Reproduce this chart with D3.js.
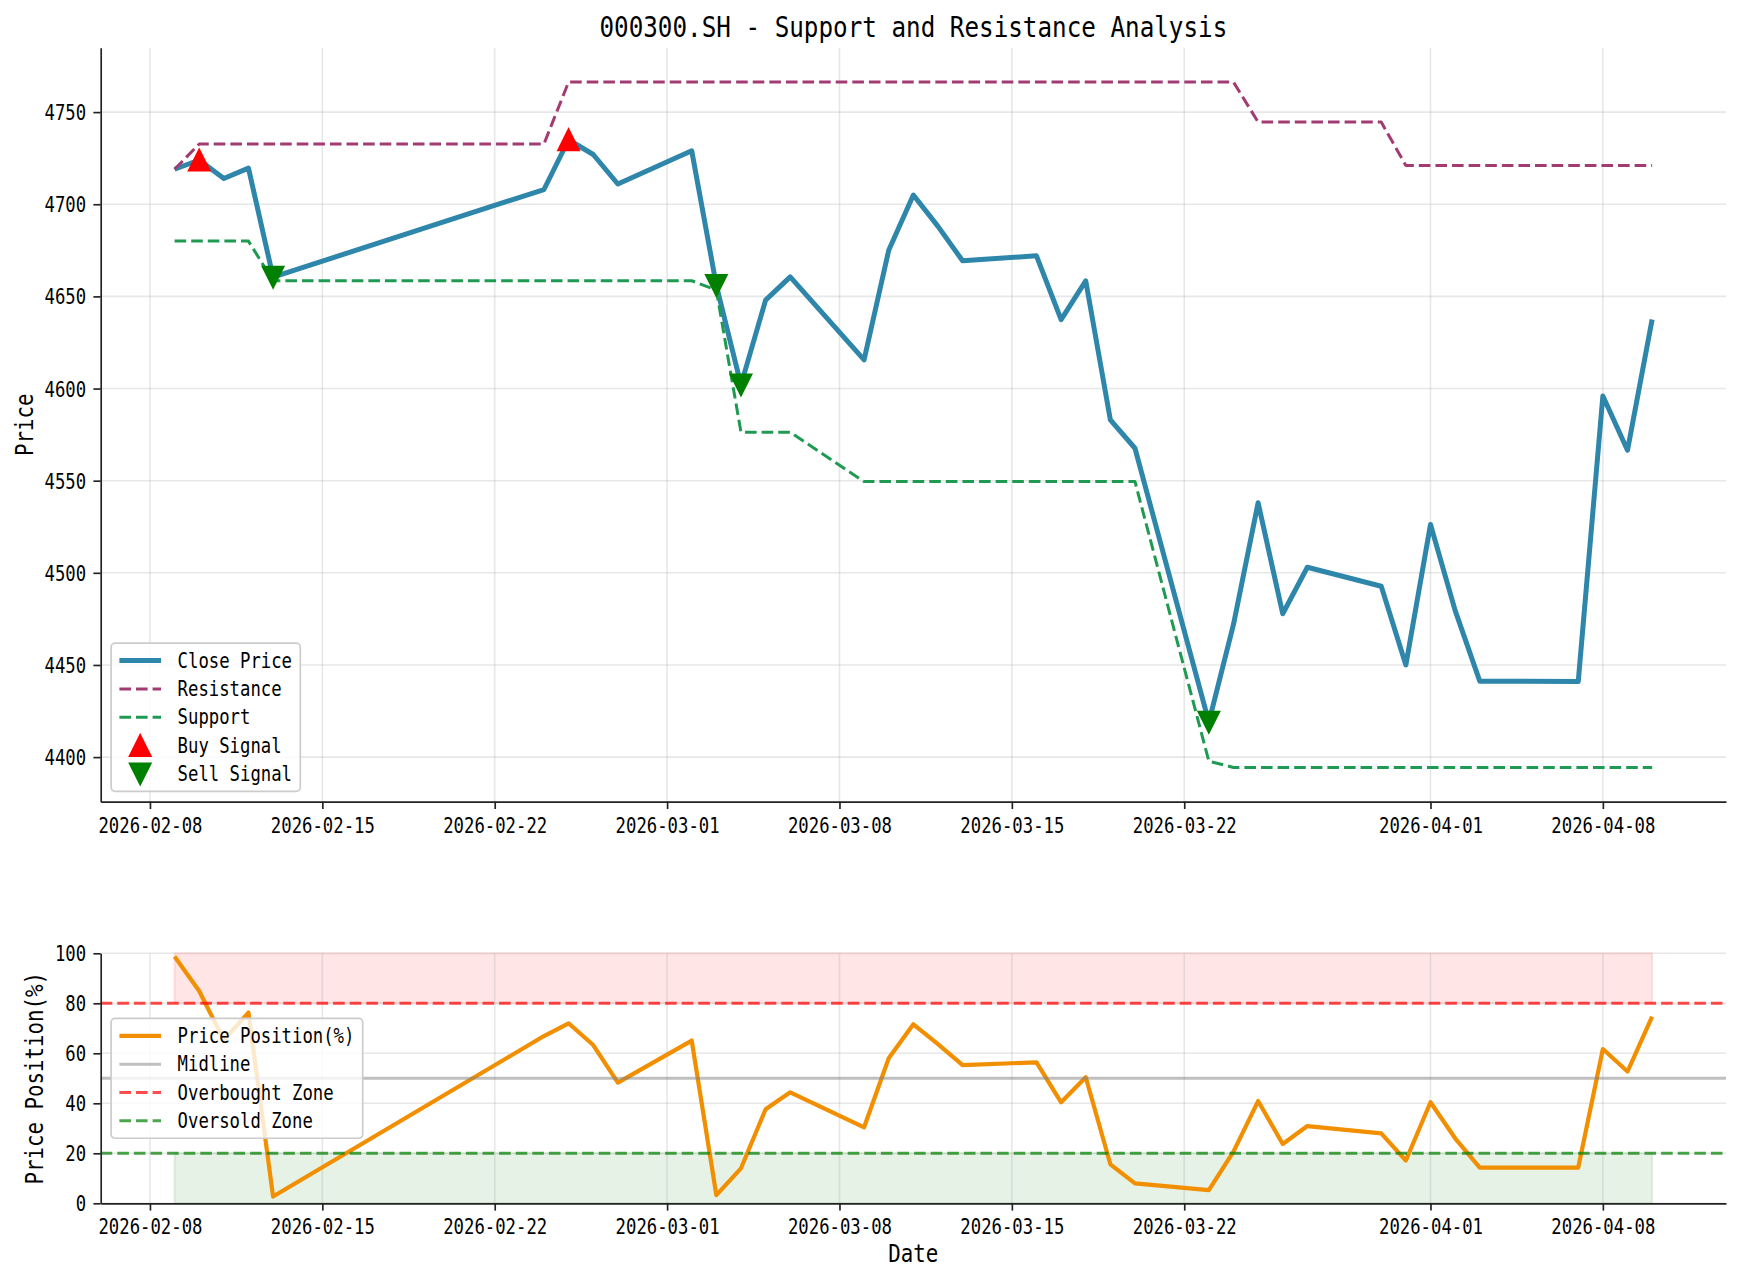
<!DOCTYPE html>
<html>
<head>
<meta charset="utf-8">
<script src="https://cdn.jsdelivr.net/npm/d3@7"></script>
<style>
  body { margin: 0; background: #fff; }
  text { font-family: "DejaVu Sans Mono", "Liberation Mono", monospace; fill: #000; }
</style>
</head>
<body>
<script>
// trading days (spring festival gap, Qingming gap)
var dates = ["2026-02-09","2026-02-10","2026-02-11","2026-02-12","2026-02-13",
    "2026-02-24","2026-02-25","2026-02-26","2026-02-27",
    "2026-03-02","2026-03-03","2026-03-04","2026-03-05","2026-03-06",
    "2026-03-09","2026-03-10","2026-03-11","2026-03-12","2026-03-13",
    "2026-03-16","2026-03-17","2026-03-18","2026-03-19","2026-03-20",
    "2026-03-23","2026-03-24","2026-03-25","2026-03-26","2026-03-27",
    "2026-03-30","2026-03-31","2026-04-01","2026-04-02","2026-04-03",
    "2026-04-07","2026-04-08","2026-04-09","2026-04-10"];

var closePrice = [4719, 4724, 4714, 4719.6, 4660.5,
    4708, 4735, 4727, 4711,
    4729, 4656, 4602, 4648, 4660.6,
    4615.6, 4675, 4705, 4688, 4669.3,
    4672, 4637.4, 4658.4, 4583, 4567.6,
    4419, 4472, 4538, 4477.8, 4503,
    4492.7, 4450, 4526.2, 4479.6, 4441.2,
    4441, 4596, 4566.5, 4637.5];

var resistance = [4719, 4732.7, 4732.7, 4732.7, 4732.7,
    4732.7, 4766.3, 4766.3, 4766.3,
    4766.3, 4766.3, 4766.3, 4766.3, 4766.3,
    4766.3, 4766.3, 4766.3, 4766.3, 4766.3,
    4766.3, 4766.3, 4766.3, 4766.3, 4766.3,
    4766.3, 4766.3, 4744.6, 4744.6, 4744.6,
    4744.6, 4721, 4721, 4721, 4721,
    4721, 4721, 4721, 4721];

var support = [4680, 4680, 4680, 4680, 4658.5,
    4658.5, 4658.5, 4658.5, 4658.5,
    4658.5, 4653.4, 4576.3, 4576.3, 4576.3,
    4549.5, 4549.5, 4549.5, 4549.5, 4549.5,
    4549.5, 4549.5, 4549.5, 4549.5, 4549.5,
    4397.8, 4394.4, 4394.4, 4394.4, 4394.4,
    4394.4, 4394.4, 4394.4, 4394.4, 4394.4,
    4394.4, 4394.4, 4394.4, 4394.4];

var pricePosition = [98.7, 84.9, 65.3, 76.3, 2.7,
    66.9, 72, 63.3, 48.3,
    65.1, 3.3, 14, 37.6, 44.4,
    30.4, 58, 71.6, 63.7, 55.3,
    56.4, 40.4, 50.4, 15.6, 8,
    5.3, 20.7, 40.9, 23.7, 30.9,
    28, 17.1, 40.4, 26, 14.3,
    14.3, 61.7, 52.7, 74.7];

var buyDates = ["2026-02-10", "2026-02-25"];
var sellDates = ["2026-02-13", "2026-03-03", "2026-03-04", "2026-03-23"];

var xTicks = ["2026-02-08","2026-02-15","2026-02-22","2026-03-01","2026-03-08",
    "2026-03-15","2026-03-22","2026-04-01","2026-04-08"];
var priceTicks = [4400, 4450, 4500, 4550, 4600, 4650, 4700, 4750];
var posTicks = [0, 20, 40, 60, 80, 100];

var parse = d3.utcParse("%Y-%m-%d");
var rows = dates.map(function (d, i) {
    return { date: parse(d), close: closePrice[i], res: resistance[i], sup: support[i], pos: pricePosition[i] };
});
function rowAt(s) { return rows[dates.indexOf(s)]; }

var width = 1743, height = 1281;
var left = 100.7, right = 1726;
var top1 = 47.8, bottom1 = 801.7;   // price panel
var top2 = 953.3, bottom2 = 1203.3; // position panel
var fs = 20.8;                       // tick / legend font px

var svg = d3.select("body").append("svg").attr("width", width).attr("height", height);

// squeeze the mono font to half-width glyphs like the original
function squeeze(sel, size) {
    sel.attr("font-size", size)
        .attr("textLength", function () { return this.textContent.length * size * 0.5; })
        .attr("lengthAdjust", "spacingAndGlyphs");
}

// scales (5% margins like matplotlib autoscale)
var ext = d3.extent(rows, function (d) { return d.date; });
var pad = (ext[1] - ext[0]) * 0.05;
var x = d3.scaleUtc().domain([new Date(+ext[0] - pad), new Date(+ext[1] + pad)]).range([left, right]);

var lo = Math.min(d3.min(support), d3.min(closePrice));
var hi = Math.max(d3.max(resistance), d3.max(closePrice));
var yP = d3.scaleLinear().domain([lo - (hi - lo) * 0.05, hi + (hi - lo) * 0.05]).range([bottom1, top1]);
var yQ = d3.scaleLinear().domain([0, 100]).range([bottom2, top2]);

var tickDates = xTicks.map(parse);

function grid(g, y, yTicks, y0, y1) {
    g.selectAll(".gx").data(tickDates).enter().append("line")
        .attr("x1", function (d) { return x(d); }).attr("x2", function (d) { return x(d); })
        .attr("y1", y0).attr("y2", y1)
        .attr("stroke", "#b0b0b0").attr("stroke-opacity", 0.3).attr("stroke-width", 1.6);
    g.selectAll(".gy").data(yTicks).enter().append("line")
        .attr("x1", left).attr("x2", right)
        .attr("y1", function (d) { return y(d); }).attr("y2", function (d) { return y(d); })
        .attr("stroke", "#b0b0b0").attr("stroke-opacity", 0.3).attr("stroke-width", 1.6);
}

function axes(yScale, yTicks, y0) {
    var gx = svg.append("g").attr("transform", "translate(0," + y0 + ")")
        .call(d3.axisBottom(x).tickValues(tickDates).tickFormat(d3.utcFormat("%Y-%m-%d"))
            .tickSize(7.3).tickPadding(7.3).tickSizeOuter(0));
    var gy = svg.append("g").attr("transform", "translate(" + left + ",0)")
        .call(d3.axisLeft(yScale).tickValues(yTicks).tickFormat(d3.format("d"))
            .tickSize(7.3).tickPadding(7.3).tickSizeOuter(0));
    [gx, gy].forEach(function (g) {
        g.selectAll("path, line").attr("stroke", "#222").attr("stroke-width", 1.67);
        g.selectAll("text").attr("fill", "#000").call(squeeze, fs);
    });
    gx.selectAll("text").attr("dy", "0.79em");
    gy.selectAll("text").attr("dy", "0.36em");
}

// ---------- price panel ----------
var p1 = svg.append("g");
grid(p1, yP, priceTicks, top1, bottom1);

var lineOf = function (key, yScale) {
    return d3.line().x(function (d) { return x(d.date); }).y(function (d) { return yScale(d[key]); });
};

p1.append("path").datum(rows).attr("d", lineOf("close", yP))
    .attr("fill", "none").attr("stroke", "#2E86AB").attr("stroke-width", 5).attr("stroke-linejoin", "round");
p1.append("path").datum(rows).attr("d", lineOf("res", yP))
    .attr("fill", "none").attr("stroke", "#A23B72").attr("stroke-width", 3)
    .attr("stroke-dasharray", "11.6,5").attr("stroke-linejoin", "round");
p1.append("path").datum(rows).attr("d", lineOf("sup", yP))
    .attr("fill", "none").attr("stroke", "#1F9A52").attr("stroke-width", 3)
    .attr("stroke-dasharray", "11.6,5").attr("stroke-linejoin", "round");

var triUp = "M0,-10.4L10.4,10.4L-10.4,10.4Z";
var triDown = "M0,10.4L10.4,-10.4L-10.4,-10.4Z";

p1.selectAll(".buy").data(buyDates.map(rowAt)).enter().append("path")
    .attr("d", triUp).attr("fill", "red").attr("stroke", "red").attr("stroke-width", 2)
    .attr("transform", function (d) { return "translate(" + x(d.date) + "," + yP(d.close) + ")"; });
p1.selectAll(".sell").data(sellDates.map(rowAt)).enter().append("path")
    .attr("d", triDown).attr("fill", "green").attr("stroke", "green").attr("stroke-width", 2)
    .attr("transform", function (d) { return "translate(" + x(d.date) + "," + yP(d.close) + ")"; });

axes(yP, priceTicks, bottom1);

// ---------- price position panel ----------
var p2 = svg.append("g");
var band = function (a, b) {
    return d3.area().x(function (d) { return x(d.date); }).y0(yQ(a)).y1(yQ(b));
};
p2.append("path").datum(rows).attr("d", band(80, 100))
    .attr("fill", "red").attr("fill-opacity", 0.1).attr("stroke", "red").attr("stroke-opacity", 0.1).attr("stroke-width", 2);
p2.append("path").datum(rows).attr("d", band(0, 20))
    .attr("fill", "green").attr("fill-opacity", 0.1).attr("stroke", "green").attr("stroke-opacity", 0.1).attr("stroke-width", 2);

grid(p2, yQ, posTicks, top2, bottom2);

p2.append("path").datum(rows).attr("d", lineOf("pos", yQ))
    .attr("fill", "none").attr("stroke", "#F18F01").attr("stroke-width", 4.2).attr("stroke-linejoin", "round");

var hlines = [
    { v: 50, color: "gray", op: 0.5, dash: null },
    { v: 80, color: "red", op: 0.7, dash: "11.6,5" },
    { v: 20, color: "green", op: 0.7, dash: "11.6,5" }
];
p2.selectAll(".hl").data(hlines).enter().append("line")
    .attr("x1", left).attr("x2", right)
    .attr("y1", function (d) { return yQ(d.v); }).attr("y2", function (d) { return yQ(d.v); })
    .attr("stroke", function (d) { return d.color; }).attr("stroke-opacity", function (d) { return d.op; })
    .attr("stroke-width", 3).attr("stroke-dasharray", function (d) { return d.dash; });

axes(yQ, posTicks, bottom2);

// ---------- titles and labels ----------
svg.append("text").attr("x", (left + right) / 2).attr("y", 36.5).attr("text-anchor", "middle")
    .text("000300.SH - Support and Resistance Analysis").call(squeeze, 29.2);
svg.append("text").attr("x", (left + right) / 2).attr("y", 1262).attr("text-anchor", "middle")
    .text("Date").call(squeeze, 25);
svg.append("text").attr("text-anchor", "middle")
    .attr("transform", "translate(33.3," + (top1 + bottom1) / 2 + ") rotate(-90)")
    .text("Price").call(squeeze, 25);
svg.append("text").attr("text-anchor", "middle")
    .attr("transform", "translate(42.7," + (top2 + bottom2) / 2 + ") rotate(-90)")
    .text("Price Position(%)").call(squeeze, 25);

// ---------- legends ----------
function legend(entries, x0, yTop) {
    var pitch = 28.3, padY = 17.5;
    var maxLen = d3.max(entries, function (e) { return e.label.length; });
    var w = 8.3 + 41.6 + 16.6 + maxLen * fs * 0.5 + 8.3;
    var h = padY * 2 + (entries.length - 1) * pitch;
    var g = svg.append("g").attr("transform", "translate(" + x0 + "," + yTop + ")");
    g.append("rect").attr("width", w).attr("height", h).attr("rx", 4)
        .attr("fill", "#fff").attr("fill-opacity", 0.8).attr("stroke", "#cccccc").attr("stroke-width", 1.7);
    var row = g.selectAll(".row").data(entries).enter().append("g")
        .attr("transform", function (e, i) { return "translate(8.3," + (padY + i * pitch) + ")"; });
    row.each(function (e) {
        var r = d3.select(this);
        if (e.marker) {
            r.append("path").attr("d", e.marker).attr("transform", "translate(20.8,0)")
                .attr("fill", e.color).attr("stroke", e.color).attr("stroke-width", 2);
        } else {
            r.append("line").attr("x1", 0).attr("x2", 41.6)
                .attr("stroke", e.color).attr("stroke-width", e.width)
                .attr("stroke-opacity", e.op || 1).attr("stroke-dasharray", e.dash || null);
        }
        r.append("text").attr("x", 41.6 + 16.6).attr("dy", "0.35em").text(e.label).call(squeeze, fs);
    });
    return h;
}

var h1 = 2 * 17.5 + 4 * 28.3;
legend([
    { label: "Close Price", color: "#2E86AB", width: 5 },
    { label: "Resistance", color: "#A23B72", width: 3, dash: "11.6,5" },
    { label: "Support", color: "#1F9A52", width: 3, dash: "11.6,5" },
    { label: "Buy Signal", color: "red", marker: triUp },
    { label: "Sell Signal", color: "green", marker: triDown }
], left + 10.4, bottom1 - 10.4 - h1);

var h2 = 2 * 17.5 + 3 * 28.3;
legend([
    { label: "Price Position(%)", color: "#F18F01", width: 4.2 },
    { label: "Midline", color: "gray", width: 3, op: 0.5 },
    { label: "Overbought Zone", color: "red", width: 3, op: 0.7, dash: "11.6,5" },
    { label: "Oversold Zone", color: "green", width: 3, op: 0.7, dash: "11.6,5" }
], left + 10.4, (top2 + bottom2) / 2 - h2 / 2);
</script>
</body>
</html>
